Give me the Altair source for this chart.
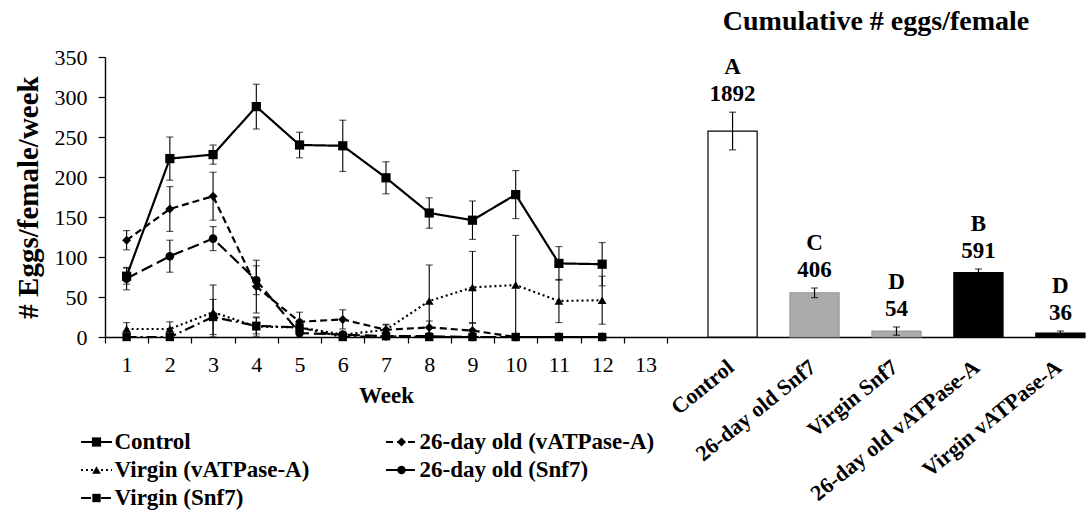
import altair as alt
import pandas as pd

SERIF = "Liberation Serif"

# ---------------- weekly data ----------------
weeks = list(range(1, 13))
series_names = ["Control", "26-day old (vATPase-A)", "Virgin (vATPase-A)",
                "26-day old (Snf7)", "Virgin (Snf7)"]

control = [76, 223, 228, 288, 240, 239, 199, 155, 146, 178, 92, 91]
control_err = [10, 27, 12, 28, 16, 32, 20, 19, 24, 30, 21, 27]
old_vatp = [121, 160, 176, 63, 19, 22, 9, 12, 8, 0, 0, 0]
old_vatp_err = [12, 28, 30, 33, 12, 12, 6, 8, 10, 0, 0, 0]
virgin_vatp = [10, 10, 31, 13, 12, 3, 9, 45, 62, 65, 45, 46]
virgin_vatp_err = [8, 9, 34, 12, 9, 3, 7, 45, 45, 62, 27, 30]
old_snf7 = [73, 101, 123, 71, 5, 3, 1, 1, 0, 0, 0, 0]
old_snf7_err = [14, 20, 15, 18, 5, 3, 2, 1, 0, 0, 0, 0]
virgin_snf7 = [0, 0, 25, 14, 12, 0, 1, 0, 0, 0, 0, 0]
virgin_snf7_err = [2, 2, 22, 10, 6, 1, 1, 0, 0, 0, 0, 0]

# legend grid placement (column, row) for each series
legend_col = [0, 1, 0, 1, 0]
legend_row = [0, 0, 1, 1, 2]

# ---------------- cumulative bars ----------------
bar_names = ["Control", "26-day old Snf7", "Virgin  Snf7",
             "26-day  old vATPase-A", "Virgin vATPase-A"]
bar_totals = [1892, 406, 54, 591, 36]
bar_err = [173, 44, 38, 34, 19]
bar_letters = ["A", "C", "D", "B", "D"]
bar_fills = ["white", "#ababab", "#ababab", "black", "black"]
bar_strokes = ["black", "#9a9a9a", "#9a9a9a", "black", "black"]

# ---------------- build tables ----------------
all_vals = [control, old_vatp, virgin_vatp, old_snf7, virgin_snf7]
all_errs = [control_err, old_vatp_err, virgin_vatp_err, old_snf7_err, virgin_snf7_err]
rows = []
for name, vals, errs in zip(series_names, all_vals, all_errs):
    for w, v, e in zip(weeks, vals, errs):
        rows.append(dict(series=name, week=w, value=v, err=e,
                         lo=max(v - e, 0), hi=v + e))
df = pd.DataFrame(rows)
df_err = df[df["err"] > 0]

leg = pd.DataFrame(dict(series=series_names, col=legend_col, row=legend_row))

bars = pd.DataFrame(dict(name=bar_names, total=bar_totals, err=bar_err,
                         letter=bar_letters))
bars["lo"] = bars["total"] - bars["err"]
bars["hi"] = bars["total"] + bars["err"]
bars["num"] = bars["total"].astype(str)

dash_range = [[1, 0], [7, 4], [2, 3], [12, 5], [10, 4, 2, 4]]
shape_range = ["square", "diamond", "triangle-up", "circle", "square"]
size_range = [85, 70, 95, 90, 85]

W_LINE, H = 562, 280
W_BAR = 418

x_scale = alt.Scale(domain=[0.5, 13.5], nice=False, zero=False)
x_axis = alt.Axis(
    values=[i + 0.5 for i in range(0, 14)],
    labelExpr="datum.value > 13 ? '' : format(datum.value + 0.5, 'd')",
    labelOffset=W_LINE / 13 / 2,
    labelFlush=False, labelOverlap=False, grid=False,
    tickSize=6, tickColor="black", tickWidth=1.2,
    domainColor="black", domainWidth=1.4,
    labelFont=SERIF, labelFontSize=22, labelColor="black", labelPadding=11,
    title="Week", titleFont=SERIF, titleFontSize=23, titleFontWeight="bold",
    titleColor="black", titlePadding=9,
)
y_scale = alt.Scale(domain=[0, 350], nice=False)
y_axis = alt.Axis(
    values=list(range(0, 351, 50)), grid=False, labelOverlap=False, labelFlush=False,
    tickSize=7, tickColor="black", tickWidth=1.2,
    domainColor="black", domainWidth=1.4,
    labelFont=SERIF, labelFontSize=22, labelColor="black", labelPadding=11,
    title="# Eggs/female/week", titleFont=SERIF, titleFontSize=29,
    titleFontWeight="bold", titleColor="black", titlePadding=11,
)


def X(field):
    return alt.X(field, type="quantitative", scale=x_scale, axis=x_axis)


def Y(field):
    return alt.Y(field, type="quantitative", scale=y_scale, axis=y_axis)


dash_enc = alt.StrokeDash("series:N", scale=alt.Scale(domain=series_names, range=dash_range), legend=None)
shape_enc = alt.Shape("series:N", scale=alt.Scale(domain=series_names, range=shape_range), legend=None)
size_enc = alt.Size("series:N", scale=alt.Scale(domain=series_names, range=size_range), legend=None)

base = alt.Chart(df)
lines = base.mark_line(color="black", strokeWidth=2.2).encode(
    x=X("week"), y=Y("value"), strokeDash=dash_enc, detail="series:N")
points = base.mark_point(filled=True, color="black", opacity=1).encode(
    x=X("week"), y=Y("value"), shape=shape_enc, size=size_enc)
err_rule = alt.Chart(df_err).mark_rule(color="black", strokeWidth=1.1).encode(
    x=X("week"), y=Y("lo"), y2="hi:Q")
err_top = alt.Chart(df_err).mark_tick(color="black", orient="horizontal", size=7, thickness=1.1).encode(
    x=X("week"), y=Y("hi"))
err_bot = alt.Chart(df_err).mark_tick(color="black", orient="horizontal", size=7, thickness=1.1).encode(
    x=X("week"), y=Y("lo"))
data_layer = alt.layer(lines, err_rule, err_top, err_bot, points)

# legend built from the series list, placed below the plot
lx = alt.X("col:Q", scale=alt.Scale(domain=[0, 1], range=[-8.5, 296.5]), axis=None)
ly = alt.Y("row:Q", scale=alt.Scale(domain=[0, 2], range=[385, 441]), axis=None)
lbase = alt.Chart(leg)
leg_rule = lbase.mark_rule(color="black", strokeWidth=2, xOffset=-15.5, x2Offset=15.5).encode(
    x=lx, x2="col:Q", y=ly, strokeDash=dash_enc)
leg_pt = lbase.mark_point(filled=True, color="black", opacity=1).encode(
    x=lx, y=ly, shape=shape_enc, size=size_enc)
leg_txt = lbase.mark_text(align="left", baseline="middle", dx=18, font=SERIF,
                          fontSize=23, fontWeight="bold", color="black").encode(
    x=lx, y=ly, text="series:N")
legend_layer = alt.layer(leg_rule, leg_pt, leg_txt)

line_panel = alt.layer(data_layer, legend_layer).resolve_scale(
    x="independent", y="independent").properties(width=W_LINE, height=H)

# ---------------- bar panel ----------------
xb_scale = alt.Scale(domain=bar_names, paddingInner=0.4, paddingOuter=0.25, align=1)
xb_axis = alt.Axis(title=None, ticks=False, labelAngle=-39, labelAlign="right",
                   labelBaseline="top", labelPadding=19, labelLimit=0, labelOffset=-8,
                   labelFont=SERIF, labelFontSize=22, labelFontWeight="bold",
                   labelColor="black", domainColor="black", domainWidth=1.4)


def XB():
    return alt.X("name:N", scale=xb_scale, axis=xb_axis, sort=bar_names)


yb_scale = alt.Scale(domain=[0, 2572], nice=False)


def YB(field):
    return alt.Y(field, type="quantitative", scale=yb_scale, axis=None)


bbase = alt.Chart(bars)
bar_marks = bbase.mark_bar(strokeWidth=1.2).encode(
    x=XB(), y=YB("total"),
    fill=alt.Fill("name:N", scale=alt.Scale(domain=bar_names, range=bar_fills), legend=None),
    stroke=alt.Stroke("name:N", scale=alt.Scale(domain=bar_names, range=bar_strokes), legend=None))
bar_err_rule = bbase.mark_rule(color="black", strokeWidth=1.2).encode(
    x=XB(), y=YB("lo"), y2="hi:Q")
bar_err_top = bbase.mark_tick(color="black", orient="horizontal", size=7, thickness=1.2).encode(
    x=XB(), y=YB("hi"))
bar_err_bot = bbase.mark_tick(color="black", orient="horizontal", size=7, thickness=1.2).encode(
    x=XB(), y=YB("lo"))
num_txt = bbase.mark_text(baseline="middle", dy=-18, font=SERIF, fontSize=23,
                          fontWeight="bold", color="black").encode(
    x=XB(), y=YB("hi"), text="num:N")
let_txt = bbase.mark_text(baseline="middle", dy=-45, font=SERIF, fontSize=23,
                          fontWeight="bold", color="black").encode(
    x=XB(), y=YB("hi"), text="letter:N")
bar_panel = alt.layer(bar_marks, bar_err_rule, bar_err_top, bar_err_bot, num_txt, let_txt).properties(
    width=W_BAR, height=H,
    title=alt.Title("Cumulative # eggs/female", font=SERIF, fontSize=28,
                    fontWeight="bold", color="black", anchor="middle", offset=20))

chart = alt.hconcat(line_panel, bar_panel, spacing=0, bounds="flush").properties(
    padding={"left": 13, "top": 8, "right": 0, "bottom": 0},
    background="white",
).configure(font=SERIF).configure_view(stroke=None).configure_text(font=SERIF).configure_title(
    font=SERIF).configure_axis(labelFont=SERIF, titleFont=SERIF)

chart.save("out.html", embed_options={"renderer": "svg", "actions": False})
